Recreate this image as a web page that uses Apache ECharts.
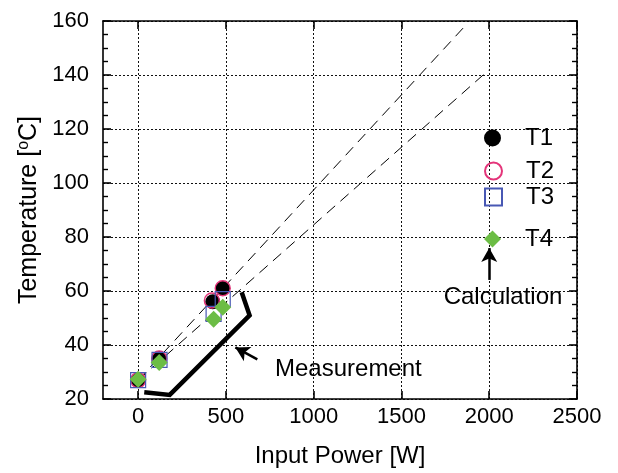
<!DOCTYPE html>
<html><head><meta charset="utf-8">
<script src="https://cdn.jsdelivr.net/npm/echarts@6/dist/echarts.min.js"></script>
<style>html,body{margin:0;padding:0;background:#fff}#c{width:618px;height:473px}</style>
</head><body><div id="c"></div>
<script>
// ---- data ----
const xTickValues = [0, 500, 1000, 1500, 2000, 2500];
const yTickValues = [20, 40, 60, 80, 100, 120, 140, 160];
const seriesNames = ['T1', 'T2', 'T3', 'T4'];
const t1 = [[0, 27], [120, 35], [425, 56], [482, 61]];
const t2 = [[0, 27], [120, 35], [420, 56.5], [482, 61]];
const t3 = [[0, 27], [122, 34.5], [430, 51.5], [482, 57]];
const t4 = [[0, 27.3], [120, 33.5], [430, 49.5], [482, 54]];
const calcLineUpper = [[0, 27], [1860, 158]];
const calcLineLower = [[0, 27], [2000, 142]];
const measurement = [[35, 22.5], [180, 21.5], [635, 51], [590, 59.5]];
const measurementArrow = [[679, 34.7], [554, 39.1]];
const calculationArrow = [[2000, 64.1], [2000, 75.9]];
const annotationTexts = ['Calculation', 'Measurement'];

// ---- chart ----
const FONT = 'Liberation Sans, Arial, Helvetica, sans-serif';
const BLACK = '#000';
const chart = echarts.init(document.getElementById('c'), null, {renderer: 'canvas'});

const gridLine = {show: true, lineStyle: {color: '#111', width: 1, type: [2, 2]}};
const axisLineStyle = {show: true, onZero: false, lineStyle: {color: BLACK, width: 1.6}};

function legendAt(name, top) {
  return {
    data: [name], left: 484, top: top, padding: 0,
    itemWidth: 17, itemHeight: 17, selectedMode: false,
    textStyle: {fontSize: 24, color: BLACK, fontFamily: FONT, padding: [0, 0, 0, 19]}
  };
}

const option = {
  animation: false,
  backgroundColor: '#fff',
  grid: {left: 103, right: 41, top: 21, bottom: 71, containLabel: false},
  legend: [legendAt('T1', 126), legendAt('T2', 159), legendAt('T3', 185), legendAt('T4', 227)],
  xAxis: [{
    type: 'value', min: -200, max: 2500, position: 'bottom',
    axisLine: axisLineStyle,
    axisTick: {show: true, inside: true, length: 8, customValues: xTickValues, lineStyle: {color: BLACK, width: 1.6}},
    axisLabel: {show: true, customValues: xTickValues, formatter: v => String(v),
      fontSize: 22, color: BLACK, fontFamily: FONT, margin: 7},
    splitLine: gridLine,
    name: 'Input Power [W]', nameLocation: 'middle', nameGap: 45,
    nameTextStyle: {fontSize: 24, color: BLACK, fontFamily: FONT}
  }, {
    type: 'value', min: -200, max: 2500, position: 'top',
    axisLine: axisLineStyle,
    axisTick: {show: true, inside: true, length: 8, customValues: xTickValues, lineStyle: {color: BLACK, width: 1.6}},
    axisLabel: {show: false}, splitLine: {show: false}
  }],
  yAxis: [{
    type: 'value', min: 20, max: 160, interval: 20, position: 'left',
    axisLine: axisLineStyle,
    axisTick: {show: true, inside: true, length: 8, lineStyle: {color: BLACK, width: 1.6}},
    minorTick: {show: true, splitNumber: 4, length: 5, lineStyle: {color: BLACK, width: 1.4}},
    axisLabel: {fontSize: 22, color: BLACK, fontFamily: FONT, margin: 14},
    splitLine: gridLine,
    name: 'Temperature [{sup|o}C]', nameLocation: 'middle', nameGap: 61, nameRotate: 90,
    nameTextStyle: {fontSize: 25, color: BLACK, fontFamily: FONT,
      rich: {sup: {fontSize: 16, color: BLACK, fontFamily: FONT, padding: [0, 0, 10, 0]}}}
  }, {
    type: 'value', min: 20, max: 160, interval: 20, position: 'right',
    axisLine: axisLineStyle,
    axisTick: {show: true, inside: true, length: 8, lineStyle: {color: BLACK, width: 1.6}},
    minorTick: {show: true, splitNumber: 4, length: 5, lineStyle: {color: BLACK, width: 1.4}},
    axisLabel: {show: false}, splitLine: {show: false}
  }],
  series: [
    {type: 'line', name: 'calcUpper', data: calcLineUpper, symbol: 'none', silent: true,
     lineStyle: {color: BLACK, width: 1, type: [11, 7]}, z: 2},
    {type: 'line', name: 'calcLower', data: calcLineLower, symbol: 'none', silent: true,
     lineStyle: {color: BLACK, width: 1, type: [11, 7]}, z: 2},
    {type: 'line', name: 'Measurement', data: measurement, symbol: 'none', silent: true,
     lineStyle: {color: BLACK, width: 4.5, join: 'miter'}, z: 3,
     markLine: {silent: true, symbol: ['none', 'arrow'], symbolSize: [12, 14], label: {show: false},
       lineStyle: {color: BLACK, width: 2.5, type: 'solid'},
       data: [
         [{coord: measurementArrow[0]}, {coord: measurementArrow[1]}],
         [{coord: calculationArrow[0]}, {coord: calculationArrow[1]}]
       ]}},
    {type: 'scatter', name: 'T1', data: t1, symbol: 'circle', symbolSize: 15,
     itemStyle: {color: BLACK, opacity: 1}, z: 4},
    {type: 'scatter', name: 'T2', data: t2, symbol: 'circle', symbolSize: 15,
     itemStyle: {color: 'rgba(0,0,0,0)', borderColor: '#e4357a', borderWidth: 1.4, opacity: 1}, z: 5},
    {type: 'scatter', name: 'T3', data: t3, symbol: 'rect', symbolSize: 15,
     itemStyle: {color: 'rgba(0,0,0,0)', borderColor: '#4858b4', borderWidth: 1.2, opacity: 1}, z: 6},
    {type: 'scatter', name: 'T4', data: t4, symbol: 'diamond', symbolSize: 17,
     itemStyle: {color: '#6cbd45', opacity: 1}, z: 7}
  ],
  graphic: [
    {type: 'text', x: 503, y: 297, z: 100, style: {text: annotationTexts[0], align: 'center', verticalAlign: 'middle',
      fontSize: 24, fontFamily: FONT, fill: BLACK}},
    {type: 'text', x: 275, y: 369, z: 100, style: {text: annotationTexts[1], align: 'left', verticalAlign: 'middle',
      fontSize: 24, fontFamily: FONT, fill: BLACK}}
  ]
};
chart.setOption(option);
</script>
</body></html>
